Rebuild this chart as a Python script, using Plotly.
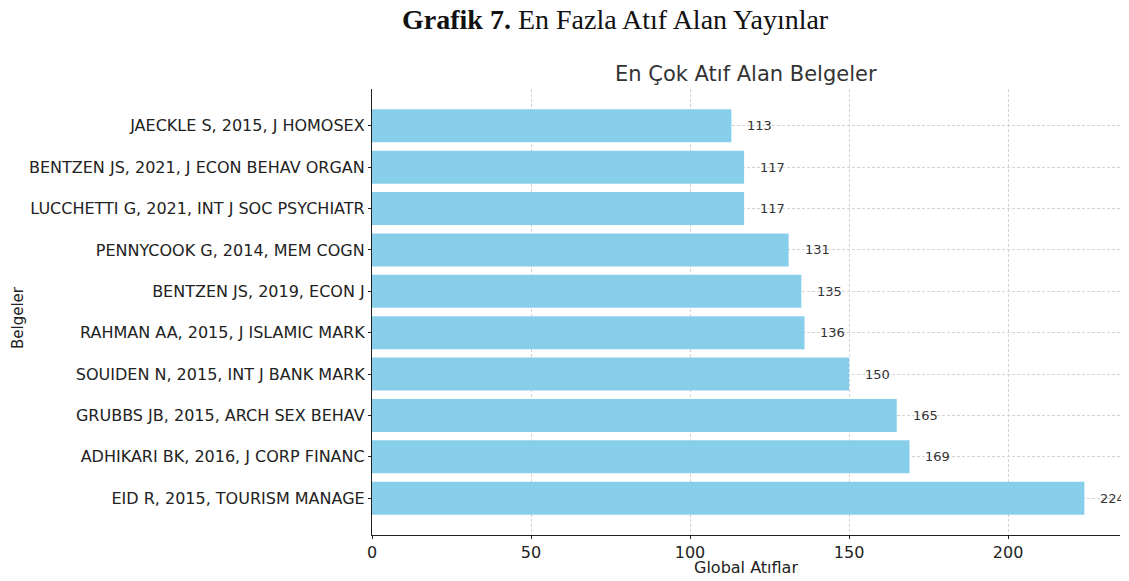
import plotly.graph_objects as go

documents = [
    "EID R, 2015, TOURISM MANAGE",
    "ADHIKARI BK, 2016, J CORP FINANC",
    "GRUBBS JB, 2015, ARCH SEX BEHAV",
    "SOUIDEN N, 2015, INT J BANK MARK",
    "RAHMAN AA, 2015, J ISLAMIC MARK",
    "BENTZEN JS, 2019, ECON J",
    "PENNYCOOK G, 2014, MEM COGN",
    "LUCCHETTI G, 2021, INT J SOC PSYCHIATR",
    "BENTZEN JS, 2021, J ECON BEHAV ORGAN",
    "JAECKLE S, 2015, J HOMOSEX",
]
citations = [224, 169, 165, 150, 136, 135, 131, 117, 117, 113]
x_ticks = [0, 50, 100, 150, 200]

positions = list(range(len(documents)))
xmax = max(citations) * 1.05
FONT = "DejaVu Sans"

fig = go.Figure()
fig.add_trace(go.Bar(
    x=citations, y=positions, orientation="h",
    marker=dict(color="#87CEEB", line=dict(width=0)),
    width=0.8, hoverinfo="x+y",
))

for p, v in zip(positions, citations):
    fig.add_annotation(x=v + 5, y=p, text=str(v), showarrow=False,
                       xanchor="left", yanchor="middle", borderpad=0,
                       xshift=-1,
                       font=dict(family=FONT, size=13, color="#333333"))

# page body has an 8px margin; the figure is sized/offset to compensate
fig.update_layout(
    width=1121, height=573,
    margin=dict(l=364, r=9, t=81, b=46, autoexpand=False),
    plot_bgcolor="white", paper_bgcolor="white",
    showlegend=False,
    font=dict(family=FONT, color="#222222"),
    bargap=0.2,
)
fig.update_xaxes(
    range=[0, xmax], tickvals=x_ticks, ticktext=[str(t) for t in x_ticks],
    showgrid=True, gridcolor="#d3d3d3", griddash="3px,2px", gridwidth=1,
    showline=True, linecolor="#222222", linewidth=1.2, mirror=False,
    ticks="outside", ticklen=3, tickcolor="#222222",
    tickfont=dict(family=FONT, size=16, color="#222222"),
    zeroline=False, automargin=False,
)
fig.update_yaxes(
    range=[-0.89, len(documents) - 1 + 0.89],
    tickvals=positions, ticktext=documents,
    showgrid=True, gridcolor="#d3d3d3", griddash="3px,2px", gridwidth=1,
    showline=True, linecolor="#222222", linewidth=1.2,
    ticks="outside", ticklen=3, tickcolor="#222222",
    tickfont=dict(family=FONT, size=16, color="#222222"),
    ticklabelstandoff=0,
    zeroline=False, automargin=False,
)

# header and titles
fig.add_annotation(xref="paper", yref="paper", x=(615 - 372) / 748, y=1,
                   yshift=89 - 19, yanchor="middle", xanchor="center",
                   text="<b>Grafik 7.</b> En Fazla Atıf Alan Yayınlar",
                   showarrow=False,
                   font=dict(family="Liberation Serif", size=28, color="#111111"))
fig.add_annotation(xref="paper", yref="paper", x=0.5, y=1,
                   yshift=89 - 74, yanchor="middle", xanchor="center",
                   text="En Çok Atıf Alan Belgeler", showarrow=False,
                   font=dict(family=FONT, size=21, color="#333333"))
fig.add_annotation(xref="paper", yref="paper", x=0.5, y=0,
                   yshift=-(567 - 535), yanchor="middle", xanchor="center",
                   text="Global Atıflar", showarrow=False,
                   font=dict(family=FONT, size=16, color="#222222"))
fig.add_annotation(xref="paper", yref="paper", x=0, y=(535 - 318) / 446,
                   xshift=-(372 - 18), xanchor="center", yanchor="middle",
                   text="Belgeler", textangle=-90, showarrow=False,
                   font=dict(family=FONT, size=15, color="#222222"))

fig.write_html("out.html")
